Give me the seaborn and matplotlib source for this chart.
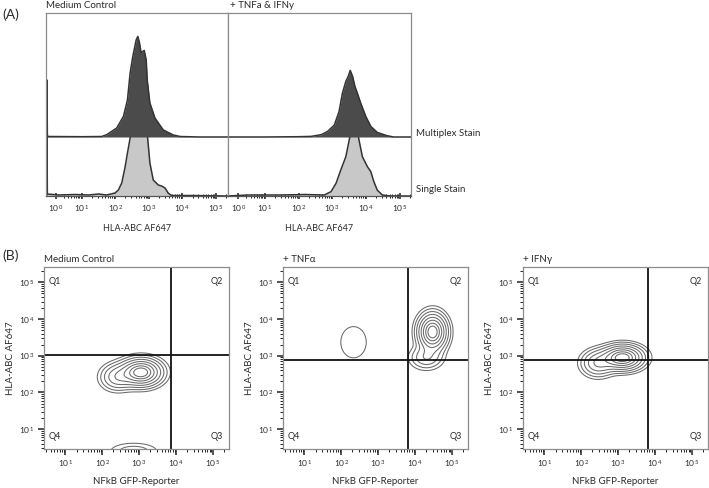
import numpy as np
import matplotlib
matplotlib.use("Agg")
import matplotlib.pyplot as plt
import seaborn as sns

# ---------------- panel A: HLA-ABC histograms ----------------
# x in log10 decades (biex-like display), heights in counts (display units)
mc_multi_x = [-0.07, -0.05, -0.04, -0.03, -0.02, 1.0, 1.59, 1.74, 2.04, 2.24, 2.36, 2.44,
              2.52, 2.62, 2.67, 2.72, 2.77, 2.82, 2.86, 2.92, 2.95, 3.03, 3.18, 3.43,
              3.73, 3.93, 4.5, 5.36]
mc_multi_h = [0, 0, 57, 3, 0.5, 0.3, 0.5, 2.3, 9, 20.6, 37, 64,
              80.6, 97, 100.6, 94, 84, 85.6, 86.6, 77, 57, 34, 19, 7,
              2, 0.5, 0, 0]

mc_single_x = [-0.07, -0.05, -0.04, -0.03, 0.3, 0.8, 1.2, 1.5, 1.74, 1.99, 2.09, 2.19,
               2.29, 2.36, 2.44, 2.52, 2.60, 2.66, 2.70, 2.74, 2.77, 2.84, 2.92, 2.95,
               3.03, 3.13, 3.28, 3.38, 3.48, 3.58, 3.68, 4.2, 5.36]
mc_single_h = [0, 0, 64, 2, 1, 1.5, 1, 2, 1, 3, 6, 13,
               29, 43, 58, 76, 88, 95, 97.7, 92, 86, 79, 72, 62.7,
               33, 16, 11, 10, 8, 2.7, 0.5, 0.5, 0]

tx_multi_x = [-0.09, 1.0, 2.0, 2.37, 2.67, 2.86, 3.06, 3.20, 3.30, 3.40, 3.47, 3.53,
              3.60, 3.67, 3.74, 3.84, 3.99, 4.14, 4.33, 4.62, 4.82, 5.33]
tx_multi_h = [0, 0, 0.3, 0.6, 2.3, 5.6, 12, 25.6, 44, 55.6, 60.6, 66.6,
              60.6, 50.6, 44, 34, 20.6, 10.6, 4.6, 1.3, 0, 0]

tx_single_x = [-0.09, 0.5, 1.5, 2.2, 2.76, 2.96, 3.11, 3.25, 3.40, 3.50, 3.60, 3.67,
               3.72, 3.79, 3.89, 4.04, 4.14, 4.23, 4.33, 4.48, 4.72, 5.33]
tx_single_h = [0, 1, 1, 1.5, 1, 4.3, 12.7, 26, 39.3, 56, 72.7, 77.7,
               69.3, 56, 39.3, 29.3, 24.3, 14.3, 6, 1, 0, 0]

hist_titles = ["Medium Control", "+ TNFa & IFNy"]
stain_labels = ["Multiplex Stain", "Single Stain"]

# ---------------- panel B: NFkB vs HLA-ABC contour plots ----------------
# populations as gaussian components in log10 decades: centre, spread, weight
contour_titles = ["Medium Control", "+ TNF\u03b1", "+ IFN\u03b3"]
pop_mu_x = [[3.05, 2.4, 2.85], [4.47, 4.3, 2.33], [3.12, 2.45]]
pop_mu_y = [[2.55, 2.42, 0.4], [3.65, 2.95, 3.37], [2.95, 2.8]]
pop_sd_x = [[0.3, 0.25, 0.4], [0.21, 0.25, 0.34], [0.3, 0.25]]
pop_sd_y = [[0.2, 0.2, 0.14], [0.27, 0.18, 0.42], [0.18, 0.2]]
pop_w = [[1.0, 0.3, 0.1], [1.0, 0.2, 0.05], [1.0, 0.35]]
gate_x = [3.85, 3.80, 3.80]
gate_y = [3.02, 2.88, 2.88]
quad_labels = ["Q1", "Q2", "Q3", "Q4"]

CONTOUR_LEVELS = [0.03, 0.063, 0.12, 0.21, 0.34, 0.5, 0.68, 0.84]
OFFSET = 59     # vertical offset of the multiplex trace
BIEX_ZERO = 0.22  # where 10^0 sits on the compressed low end of the biex axis

sns.set_style("ticks")
plt.rcParams["font.family"] = ["Lato", "DejaVu Sans"]
plt.rcParams["mathtext.fontset"] = "custom"
plt.rcParams["mathtext.rm"] = "Lato"
plt.rcParams["mathtext.it"] = "Lato"

TXT = "#2b2b2b"
SPINE = "#8c8c8c"


def decade_axis(ax, which, lo, hi, direction):
    major = list(range(lo, hi + 1))
    minor = [k + np.log10(m) for k in range(max(lo, 1) - 1, hi + 1) for m in range(2, 10)]
    pos = [BIEX_ZERO if k == 0 else k for k in major]
    if lo == 0:
        # compressed decade between 10^0 and 10^1
        minor = [BIEX_ZERO + (1 - BIEX_ZERO) * np.log10(m) for m in range(2, 10)] + \
                [k + np.log10(m) for k in range(1, hi + 1) for m in range(2, 10)]
    labels = [r"$10^{\,%d}$" % k for k in major]
    if which == "x":
        ax.set_xticks(pos)
        ax.set_xticklabels(labels)
        ax.set_xticks(minor, minor=True)
    else:
        ax.set_yticks(pos)
        ax.set_yticklabels(labels)
        ax.set_yticks(minor, minor=True)
    ax.tick_params(axis=which, which="major", direction=direction, length=4.5,
                   width=1.1, color="#222", labelsize=6, labelcolor=TXT, pad=2)
    ax.tick_params(axis=which, which="minor", direction=direction, length=2.5,
                   width=0.7, color="#222")


def draw_hist(ax, x, h, base, fill, z):
    y = np.asarray(h, dtype=float) + base
    ax.fill_between(x, base, y, color=fill, lw=0, zorder=z)
    sns.lineplot(x=x, y=y, ax=ax, color="#333333", lw=1.1, estimator=None,
                 sort=False, zorder=z + 0.5)


def gauss_mix(gx, gy, mx, my, sx, sy, w):
    z = np.zeros_like(gx)
    for a, b, c, d, e in zip(mx, my, sx, sy, w):
        z += e * np.exp(-((gx - a) ** 2 / (2 * c ** 2) + (gy - b) ** 2 / (2 * d ** 2)))
    return z


fig = plt.figure(figsize=(7.09, 4.88), dpi=100)

# ---- panel A ----
a_boxes = [[46 / 709, 1 - 196 / 488, 182 / 709, 183 / 488],
           [228 / 709, 1 - 196 / 488, 183 / 709, 183 / 488]]
a_xlims = [(-0.07, 5.36), (-0.09, 5.33)]
a_traces = [(mc_multi_x, mc_multi_h, mc_single_x, mc_single_h),
            (tx_multi_x, tx_multi_h, tx_single_x, tx_single_h)]

for i, box in enumerate(a_boxes):
    ax = fig.add_axes(box)
    mx, mh, sx_, sh = a_traces[i]
    draw_hist(ax, sx_, sh, 0, "#c8c8c8", 1)
    draw_hist(ax, mx, mh, OFFSET, "#4b4b4b", 2)
    ax.set_yticks([])
    decade_axis(ax, "x", 0, 5, "inout")
    ax.tick_params(axis="x", which="major", pad=3)
    ax.set_xlim(*a_xlims[i])
    ax.set_ylim(0, 183)
    for s in ax.spines.values():
        s.set_color(SPINE)
        s.set_linewidth(0.9)
    ax.spines["bottom"].set_color("#555")
    ax.set_xlabel("HLA-ABC AF647", fontsize=6.5, color=TXT, labelpad=7)
    ax.text(0.0 if i == 0 else 0.01, 1.015, hist_titles[i], transform=ax.transAxes,
            fontsize=7, color=TXT, ha="left", va="bottom")
    if i == 1:
        tr = ax.get_yaxis_transform()
        ax.text(1.025, OFFSET + 4, stain_labels[0], transform=tr, fontsize=7,
                color=TXT, va="center", ha="left")
        ax.text(1.025, 7, stain_labels[1], transform=tr, fontsize=7,
                color=TXT, va="center", ha="left")

# ---- panel B ----
b_lefts = [44, 283, 523]
gx, gy = np.meshgrid(np.linspace(0.0, 5.6, 400), np.linspace(0.0, 5.6, 400))

for i, left in enumerate(b_lefts):
    ax = fig.add_axes([left / 709, 1 - 449 / 488, 185 / 709, 182 / 488])
    dens = gauss_mix(gx, gy, pop_mu_x[i], pop_mu_y[i], pop_sd_x[i], pop_sd_y[i], pop_w[i])
    lv = [l * dens.max() for l in CONTOUR_LEVELS]
    ax.contour(gx, gy, dens, levels=lv, colors="#6a6a6a", linewidths=0.75)
    ax.axvline(gate_x[i], color="#111", lw=1.3)
    ax.axhline(gate_y[i], color="#111", lw=1.3)
    decade_axis(ax, "x", 1, 5, "out")
    decade_axis(ax, "y", 1, 5, "out")
    ax.set_xlim(0.42, 5.43)
    ax.set_ylim(0.46, 5.42)
    for s in ax.spines.values():
        s.set_color(SPINE)
        s.set_linewidth(0.9)
    ax.set_xlabel("NFkB GFP-Reporter", fontsize=7, color=TXT, labelpad=6)
    ax.set_ylabel("HLA-ABC AF647", fontsize=7, color=TXT, labelpad=3)
    ax.text(0.0, 1.015, contour_titles[i], transform=ax.transAxes, fontsize=7,
            color=TXT, ha="left", va="bottom")
    qpos = [(0.025, 0.92, "left"), (0.97, 0.92, "right"),
            (0.97, 0.07, "right"), (0.025, 0.07, "left")]
    for lab, (qx, qy, ha) in zip(quad_labels, qpos):
        ax.text(qx, qy, lab, transform=ax.transAxes, fontsize=6.5, color=TXT,
                ha=ha, va="center")

fig.text(2 / 709, 1 - 15 / 488, "(A)", fontsize=10, color=TXT, va="center")
fig.text(2 / 709, 1 - 256 / 488, "(B)", fontsize=10, color=TXT, va="center")

fig.savefig("out.png", dpi=100)
